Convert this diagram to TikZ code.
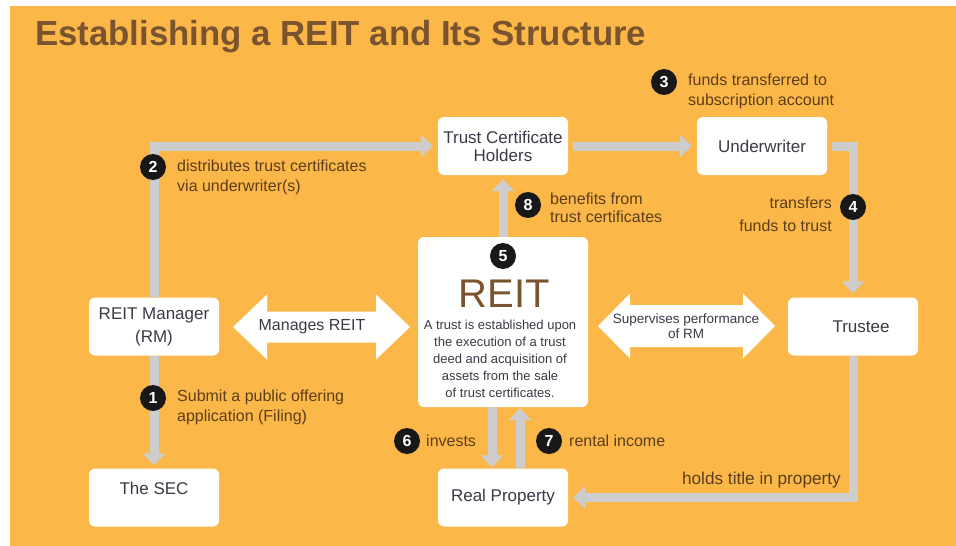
\documentclass[tikz,border=0pt]{standalone}
\usepackage{fontspec}
\setmainfont{Liberation Sans}
\usetikzlibrary{arrows.meta}

\definecolor{sheet}{RGB}{251,183,72}
\definecolor{titlebrown}{RGB}{122,83,47}
\definecolor{flowgray}{RGB}{205,205,205}
\definecolor{boxtext}{RGB}{58,58,72}
\definecolor{notetext}{RGB}{92,62,28}
\definecolor{dotfill}{RGB}{24,24,24}

\tikzset{
  box/.style={fill=white, rounded corners=6pt, minimum width=130pt, minimum height=58pt,
    inner sep=2pt, align=center, text=boxtext, font=\fontsize{17}{20}\selectfont},
  flow/.style={draw=flowgray, line width=9pt, -{Triangle[length=12pt,width=22pt]}},
  numdot/.style={circle, fill=dotfill, text=white, minimum size=26pt, inner sep=0pt,
    font=\bfseries\fontsize{16}{16}\selectfont},
  note/.style={inner sep=0pt, align=left, text=notetext, font=\fontsize{16}{20}\selectfont},
}

\begin{document}
\begin{tikzpicture}[x=1pt,y=-1pt]
    % sheet
    \fill[white] (0,0) rectangle (956,546);
    \fill[sheet] (10,6) rectangle (956,546);
    \node[anchor=base west, inner sep=0pt, text=titlebrown, font=\bfseries\fontsize{34.8}{35}\selectfont]
        (title) at (35,45) {Establishing a REIT and Its Structure};

    % parties
    \node[box] (rm) at (154,326.5) {REIT Manager\\[3pt](RM)};
    \node[box, text depth=19pt] (sec) at (154,497.5) {The SEC};
    \node[box] (tch) at (503,146) {Trust Certificate\\[-2pt]Holders};
    \node[box] (uw) at (762,146) {Underwriter};
    \node[box] (trustee) at (853,326.5) {\hspace*{16pt}Trustee};
    \node[box] (rp) at (503,497.5) {Real Property};
    \node[box, minimum width=170pt, minimum height=170pt] (reit) at (503,322) {};
    \node[text=titlebrown, inner sep=0pt, font=\fontsize{40}{40}\selectfont] (reitname) at (504,293.5) {REIT};
    \node[text=boxtext, inner sep=0pt, align=center, font=\fontsize{13}{17}\selectfont]
        (reitnote) at (500,359) {A trust is established upon\\the execution of a trust\\deed and acquisition of\\assets from the sale\\of trust certificates.};

    % flows
    \draw[flow, shorten >=5pt] (rm.north) |- (tch.west);
    \draw[flow, shorten <=5pt, shorten >=5pt] (tch.east) -- (uw.west);
    \draw[flow, shorten <=5pt, shorten >=4pt] (uw.east) -| (trustee.north);
    \draw[flow, shorten >=5pt] (trustee.south) |- (rp.east);
    \draw[flow, shorten >=3pt] (rm.south) -- (sec.north);
    \draw[flow, shorten >=4pt] (reit.north) -- (tch.south);
    \draw[flow, shorten >=1pt] ([xshift=-11pt]reit.south) -- ([xshift=-11pt]rp.north);
    \draw[flow, shorten >=1pt] ([xshift=17pt]rp.north) -- ([xshift=17pt]reit.south);

    % two-way arrows
    \fill[white] (233,327) -- (267,294.5) -- (267,311.5) -- (376,311.5) -- (376,294.5)
        -- (410,327) -- (376,359.5) -- (376,342.5) -- (267,342.5) -- (267,359.5) -- cycle;
    \node[text=boxtext, inner sep=0pt, font=\fontsize{16}{18}\selectfont] (manage) at (312,327) {Manages REIT};
    \fill[white] (598,326) -- (630,293.5) -- (630,305) -- (743,305) -- (743,293.5)
        -- (775,326) -- (743,358.5) -- (743,347) -- (630,347) -- (630,358.5) -- cycle;
    \node[text=boxtext, inner sep=0pt, align=center, font=\fontsize{13.5}{15}\selectfont]
        (supervise) at (686,326.5) {Supervises performance\\of RM};

    % steps
    \node[numdot] (n1) at (153,398) {1};
    \node[numdot] (n2) at (153,167) {2};
    \node[numdot] (n3) at (664,82) {3};
    \node[numdot] (n4) at (853,207) {4};
    \node[numdot] (n5) at (503,256) {5};
    \node[numdot] (n6) at (407,441) {6};
    \node[numdot] (n7) at (549,441) {7};
    \node[numdot] (n8) at (528,205) {8};

    \node[note, anchor=west] (s1) at (177,407) {Submit a public offering\\application (Filing)};
    \node[note, anchor=west] (s2) at (177,177.5) {distributes trust certificates\\via underwriter(s)};
    \node[note, anchor=west] (s3) at (688,91) {funds transferred to\\subscription account};
    \node[note, anchor=east, align=right, font=\fontsize{16}{23}\selectfont] (s4) at (832,214.5) {transfers\\funds to trust};
    \node[note, anchor=west] (s6) at (426,441) {invests};
    \node[note, anchor=west] (s7) at (569,441) {rental income};
    \node[note, anchor=west, font=\fontsize{16}{18}\selectfont] (s8) at (550,208) {benefits from\\trust certificates};
    \node[note, anchor=east, font=\fontsize{17.2}{20}\selectfont] (hold) at (841,480) {holds title in property};
\end{tikzpicture}
\end{document}
